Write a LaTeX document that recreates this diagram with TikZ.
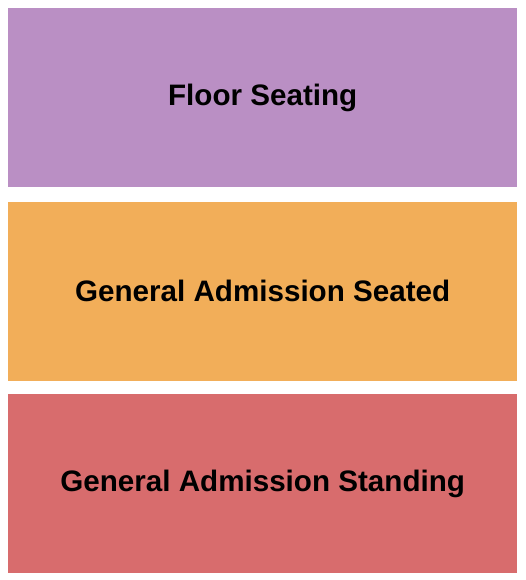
\documentclass[tikz,border=0pt]{standalone}
\usepackage{fontspec}
\setmainfont{Liberation Sans}
\usepackage{tikz}
\usetikzlibrary{positioning}
\definecolor{floorcol}{HTML}{BA8FC4}
\definecolor{seatedcol}{HTML}{F2AE59}
\definecolor{standcol}{HTML}{D86C6D}
\begin{document}
\begin{tikzpicture}[x=1pt, y=1pt, every node/.style={inner sep=0pt, font=\fontsize{29.6}{34}\selectfont\bfseries},
  section/.style={minimum width=509pt, minimum height=179pt, text=black}]
\useasboundingbox (0,0) rectangle (525,-580);
\node[section, fill=floorcol, anchor=north west] (floor) at (8,-8) {Floor Seating};
\node[section, fill=seatedcol, below=14pt of floor] (seated) {General Admission Seated};
\node[section, fill=standcol, below=13pt of seated] (standing) {General Admission Standing};
\end{tikzpicture}
\end{document}
